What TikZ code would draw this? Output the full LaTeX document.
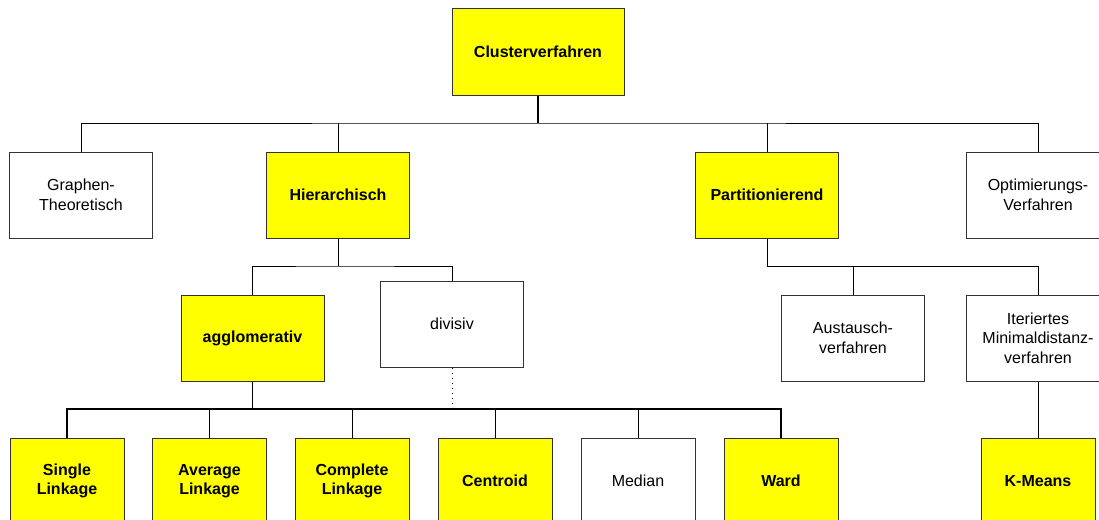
\documentclass[tikz,border=0pt]{standalone}
\usepackage{fontspec}
\setmainfont{Liberation Sans}
\usepackage{tikz}
\usetikzlibrary{positioning,calc}

\definecolor{clustergelb}{RGB}{255,255,0}

\tikzset{
  box/.style={draw=black!80, line width=0.5pt, fill=white, align=center,
    inner sep=0pt, minimum width=71.5pt, minimum height=43pt,
    font=\fontsize{8}{9.75}\selectfont},
  hibox/.style={box, fill=clustergelb, font=\fontsize{8}{9.75}\selectfont\bfseries},
  small/.style={minimum width=57pt},
  link/.style={line width=0.5pt},
  bar/.style={line width=0.9pt}
}

\begin{document}
\begin{tikzpicture}[x=0.5pt, y=-0.5pt]
    \useasboundingbox (0,0) rectangle (1099,520);
    \clip (0,0) rectangle (1099,520);

    % Wurzel
    \node[hibox, minimum width=86pt, minimum height=43.5pt] (root) at (538,51.5) {Clusterverfahren};

    % erste Ebene
    \node[box] (graph) at (81,195) {Graphen-\\Theoretisch};
    \node[hibox] (hier) at (338,195) {Hierarchisch};
    \node[hibox] (part) at (767,195) {Partitionierend};
    \node[box] (opt) at (1038,195) {Optimierungs-\\Verfahren};

    % zweite Ebene
    \node[hibox] (aggl) at (252.5,338) {agglomerativ};
    \node[box] (div) at (452,324) {divisiv};
    \node[box] (aus) at (853,338) {Austausch-\\verfahren};
    \node[box] (iter) at (1038,338) {Iteriertes\\Minimaldistanz-\\verfahren};

    % Blaetter
    \node[hibox, small] (single) at (67,481) {Single\\Linkage};
    \node[hibox, small] (avg) at (209.5,481) {Average\\Linkage};
    \node[hibox, small] (compl) at (352,481) {Complete\\Linkage};
    \node[hibox, small] (centr) at (495,481) {Centroid};
    \node[box, small] (median) at (638,481) {Median};
    \node[hibox, small] (ward) at (781,481) {Ward};
    \node[hibox, small] (kmeans) at (1038,481) {K-Means};

    % Verzweigungspunkte
    \coordinate (top) at (538,123);
    \coordinate (hj) at (338,266);
    \coordinate (pj) at (767,266);
    \coordinate (aj) at (252.5,409);

    % Verbindungen
    \draw[bar] (root.south) -- (top);
    \draw[link] (graph.north) |- (top) -| (opt.north);
    \draw[link] (hier.north) -- (hier.north |- top);
    \draw[link] (part.north) -- (part.north |- top);

    \draw[link] (hier.south) -- (hj);
    \draw[link] (aggl.north) |- (hj) -| (div.north);

    \draw[link] (part.south) -- (pj);
    \draw[link] (pj) -| (iter.north);
    \draw[link] (aus.north) -- (aus.north |- pj);

    \draw[link] (aggl.south) -- (aj);
    \draw[bar] (single.north) |- (aj) -| (ward.north);
    \foreach \n in {avg,compl,centr,median}
        \draw[link] (\n.north) -- (\n.north |- aj);
    \draw[link, dotted] (div.south) -- (div.south |- aj);

    \draw[link] (iter.south) -- (kmeans.north);
\end{tikzpicture}
\end{document}
